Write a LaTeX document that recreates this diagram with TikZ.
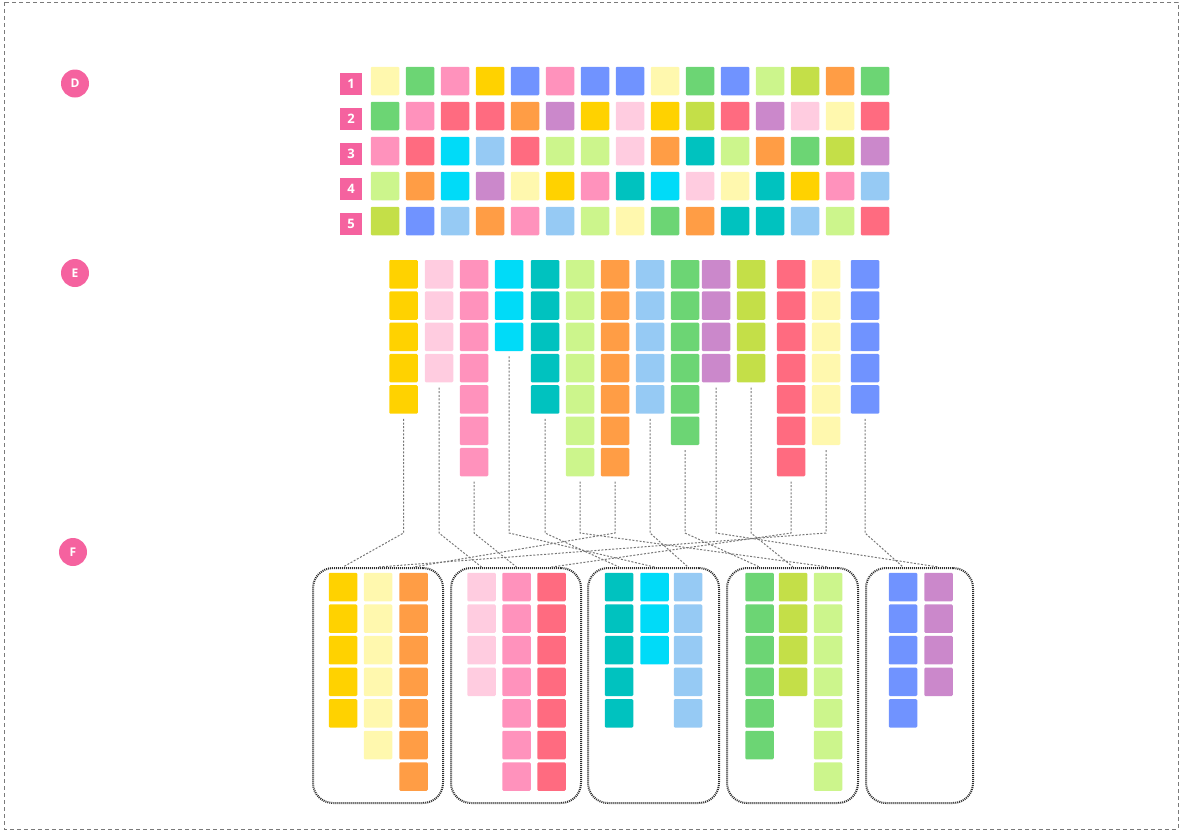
\documentclass[tikz,border=0pt]{standalone}
\usepackage{fontspec}
\setmainfont{Open Sans}
\definecolor{cO}{HTML}{FFD200}
\definecolor{cY}{HTML}{FFF8AE}
\definecolor{cOR}{HTML}{FF9D45}
\definecolor{cLP}{HTML}{FFCCE0}
\definecolor{cP}{HTML}{FF92BC}
\definecolor{cR}{HTML}{FF6B80}
\definecolor{cT}{HTML}{00C2BF}
\definecolor{cC}{HTML}{00DBF8}
\definecolor{cSB}{HTML}{96CAF4}
\definecolor{cG}{HTML}{6CD574}
\definecolor{cYG}{HTML}{C4DF48}
\definecolor{cLG}{HTML}{CCF58C}
\definecolor{cB}{HTML}{7093FF}
\definecolor{cPU}{HTML}{CB88CB}
\definecolor{pinkc}{HTML}{F5629F}
\definecolor{connc}{HTML}{777777}
\definecolor{grpc}{HTML}{2E2E2E}
\definecolor{bordc}{HTML}{7A7A7A}
\begin{document}
\begin{tikzpicture}[x=1pt,y=-1pt,
  cell/.style={rectangle, inner sep=0pt, minimum width=28.5pt, minimum height=28.5pt, rounded corners=1.2pt, draw=none},
  conn/.style={draw=connc, line width=1pt, dash pattern=on 2pt off 1.6pt},
  grpbox/.style={draw=grpc, line width=2pt, dash pattern=on 1pt off 1pt, rounded corners=20pt, inner sep=0pt},
  rowlab/.style={rectangle, fill=pinkc, text=white, font=\bfseries\fontsize{13}{13}\selectfont, minimum size=22pt, inner sep=0pt},
  steplab/.style={circle, fill=pinkc, text=white, font=\bfseries\fontsize{12}{12}\selectfont, minimum size=28pt, inner sep=0pt}]
\useasboundingbox (0,0) rectangle (1182,831);
\draw[draw=bordc, line width=1pt, dash pattern=on 4pt off 3pt] (4,2) rectangle (1178,829);

% step labels
\node[steplab] (sD) at (75,83.5) {D};
\node[steplab] (sE) at (75,273) {E};
\node[steplab] (sF) at (73,552) {F};

% D grid
\foreach \rowlist [count=\rr] in {{Y,G,P,O,B,P,B,B,Y,G,B,LG,YG,OR,G},{G,P,R,R,OR,PU,O,LP,O,YG,R,PU,LP,Y,R},{P,R,C,SB,R,LG,LG,LP,OR,T,LG,OR,G,YG,PU},{LG,OR,C,PU,Y,O,P,T,C,LP,Y,T,O,P,SB},{YG,B,SB,OR,P,SB,LG,Y,G,OR,T,T,SB,LG,R}}{
  \node[rowlab] (lab\rr) at (351, {84+35*(\rr-1)}) {\rr};
  \foreach \cc [count=\ii] in \rowlist {
    \node[cell, fill=c\cc] (g\rr-\ii) at ({385+35*(\ii-1)}, {81+35*(\rr-1)}) {};
  }
}

% E columns
\foreach \k/\xx/\cc/\n in {1/403.5/O/5, 2/439/LP/4, 3/474/P/7, 4/509/C/3, 5/545/T/5, 6/580/LG/7, 7/615/OR/7, 8/650/SB/5, 9/685/G/6, 10/716/PU/4, 11/751/YG/4, 12/791/R/7, 13/826/Y/6, 14/865/B/5}{
  \foreach \j in {1,...,\n}{
    \node[cell, fill=c\cc] (e\k-\j) at (\xx, {274.25+31.3*(\j-1)}) {};
  }
}

% F group boxes
\node[grpbox, minimum width=130pt, minimum height=235pt] (grp1) at (378,685.5) {};
\node[grpbox, minimum width=130pt, minimum height=235pt] (grp2) at (516,685.5) {};
\node[grpbox, minimum width=131pt, minimum height=235pt] (grp3) at (653.5,685.5) {};
\node[grpbox, minimum width=131pt, minimum height=235pt] (grp4) at (792.5,685.5) {};
\node[grpbox, minimum width=107pt, minimum height=235pt] (grp5) at (919.5,685.5) {};

% F cells
\foreach \g/\jj/\xx/\cc/\n in {1/1/343/O/5, 1/2/378/Y/6, 1/3/413.5/OR/7, 2/1/481.5/LP/4, 2/2/516.5/P/7, 2/3/551.5/R/7, 3/1/619/T/5, 3/2/654.5/C/3, 3/3/688/SB/5, 4/1/759.5/G/6, 4/2/793/YG/4, 4/3/828/LG/7, 5/1/903/B/5, 5/2/938.5/PU/4}{
  \foreach \j in {1,...,\n}{
    \node[cell, fill=c\cc] (f\g-\jj-\j) at (\xx, {587+31.6*(\j-1)}) {};
  }
}

% connectors
\coordinate (bend) at (0,533);
\foreach \k/\n/\g/\jj in {1/5/1/1, 2/4/2/1, 3/7/2/2, 4/3/3/2, 5/5/3/1, 6/7/4/3, 7/7/1/3, 8/5/3/3, 9/6/4/1, 10/4/5/2, 11/4/4/2, 12/7/2/3, 13/6/1/2, 14/5/5/1}{
  \draw[conn] ([yshift=-5pt]e\k-\n.south) -- (e\k-\n.south |- bend) -- (f\g-\jj-1 |- grp\g.north);
}
\end{tikzpicture}
\end{document}
